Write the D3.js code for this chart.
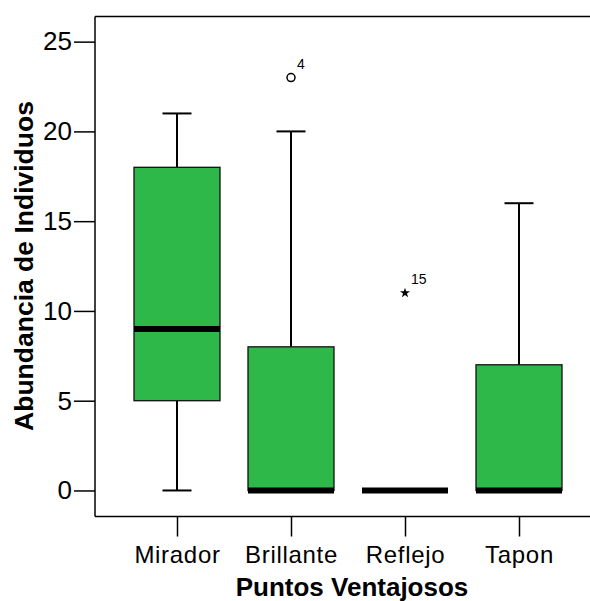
<!DOCTYPE html>
<html>
<head>
<meta charset="utf-8">
<script src="https://cdn.jsdelivr.net/npm/d3@7/dist/d3.min.js"></script>
<style>
  html, body { margin: 0; padding: 0; background: #fff; }
  svg { display: block; font-family: "Liberation Sans", Arial, sans-serif; }
</style>
</head>
<body>
<svg id="chart" width="590" height="601"></svg>
<script>
// ---- data ----
const categories   = ["Mirador", "Brillante", "Reflejo", "Tapon"];
const q1           = [5, 0, 0, 0];
const medians      = [9, 0, 0, 0];
const q3           = [18, 8, 0, 7];
const whiskerLow   = [0, 0, 0, 0];
const whiskerHigh  = [21, 20, 0, 16];
const outlierCats  = ["Brillante", "Reflejo"];
const outlierVals  = [23, 11];
const outlierIds   = ["4", "15"];
const outlierKind  = ["circle", "star"];
const yTicks       = [0, 5, 10, 15, 20, 25];
const yTitle = "Abundancia de Individuos";
const xTitle = "Puntos Ventajosos";

(function () {
// ---- layout ----
const svg = d3.select("#chart");
const pl = 95, pr = 590, pt = 16.5, pb = 516.5;
const green = "#2eb84a";

const y = d3.scaleLinear().domain([-1.45, 26.4]).range([pb, pt]);
const x = d3.scalePoint().domain(categories).range([177, 519]);
const boxHalf = 43, capHalf = 14.5;

// frame top line
svg.append("line")
  .attr("x1", pl).attr("x2", pr).attr("y1", pt).attr("y2", pt)
  .attr("stroke", "#000").attr("stroke-width", 1.5);

// y axis
const yAxis = svg.append("g").attr("transform", `translate(${pl},0)`)
  .call(d3.axisLeft(y).tickValues(yTicks).tickSize(21).tickSizeOuter(0).tickPadding(2));
yAxis.select(".domain").attr("stroke-width", 1.5).attr("d", `M0,${pt}V${pb}`);
yAxis.selectAll(".tick line").attr("stroke-width", 1.5);
yAxis.selectAll(".tick text").attr("font-size", 26).attr("font-family", "Liberation Sans, Arial, sans-serif").attr("fill", "#000");

// x axis
const xAxis = svg.append("g").attr("transform", `translate(0,${pb})`)
  .call(d3.axisBottom(x).tickSize(20).tickSizeOuter(0).tickPadding(9.5));
xAxis.select(".domain").attr("stroke-width", 1.5).attr("d", `M${pl},0H${pr}`);
xAxis.selectAll(".tick line").attr("stroke-width", 1.5);
xAxis.selectAll(".tick text").attr("font-size", 24).attr("letter-spacing", "0.7px")
  .attr("font-family", "Liberation Sans, Arial, sans-serif").attr("fill", "#000");

// boxes
const data = categories.map((c, i) => ({
  c, q1: q1[i], med: medians[i], q3: q3[i], lo: whiskerLow[i], hi: whiskerHigh[i]
}));

const g = svg.append("g");
data.forEach(d => {
  const cx = x(d.c);
  if (d.hi > d.q3) {
    g.append("line").attr("x1", cx).attr("x2", cx).attr("y1", y(d.q3)).attr("y2", y(d.hi))
      .attr("stroke", "#000").attr("stroke-width", 2);
    g.append("line").attr("x1", cx - capHalf).attr("x2", cx + capHalf).attr("y1", y(d.hi)).attr("y2", y(d.hi))
      .attr("stroke", "#000").attr("stroke-width", 2);
  }
  if (d.lo < d.q1) {
    g.append("line").attr("x1", cx).attr("x2", cx).attr("y1", y(d.q1)).attr("y2", y(d.lo))
      .attr("stroke", "#000").attr("stroke-width", 2);
    g.append("line").attr("x1", cx - capHalf).attr("x2", cx + capHalf).attr("y1", y(d.lo)).attr("y2", y(d.lo))
      .attr("stroke", "#000").attr("stroke-width", 2);
  }
  if (d.q3 > d.q1) {
    g.append("rect").attr("x", cx - boxHalf).attr("width", boxHalf * 2)
      .attr("y", y(d.q3)).attr("height", y(d.q1) - y(d.q3))
      .attr("fill", green).attr("stroke", "#111").attr("stroke-width", 1.3);
  }
  g.append("line").attr("x1", cx - boxHalf).attr("x2", cx + boxHalf)
    .attr("y1", y(d.med)).attr("y2", y(d.med))
    .attr("stroke", "#000").attr("stroke-width", 6);
});

// outliers
outlierCats.forEach((c, i) => {
  const cx = x(c), cy = y(outlierVals[i]);
  if (outlierKind[i] === "circle") {
    g.append("circle").attr("cx", cx).attr("cy", cy).attr("r", 4)
      .attr("fill", "#fff").attr("stroke", "#000").attr("stroke-width", 1.5);
  } else {
    g.append("path").attr("d", d3.symbol(d3.symbolStar, 32)())
      .attr("transform", `translate(${cx},${cy})`).attr("fill", "#000");
  }
  g.append("text").attr("x", cx + 6).attr("y", cy - 8.5)
    .attr("font-size", 14).attr("fill", "#000").text(outlierIds[i]);
});

// titles
svg.append("text").attr("x", 352).attr("y", 595.5)
  .attr("text-anchor", "middle").attr("font-weight", "bold").attr("font-size", 26)
  .text(xTitle);
svg.append("text").attr("transform", `translate(33,266) rotate(-90)`)
  .attr("text-anchor", "middle").attr("font-weight", "bold").attr("font-size", 26.5)
  .text(yTitle);
})();
</script>
</body>
</html>
